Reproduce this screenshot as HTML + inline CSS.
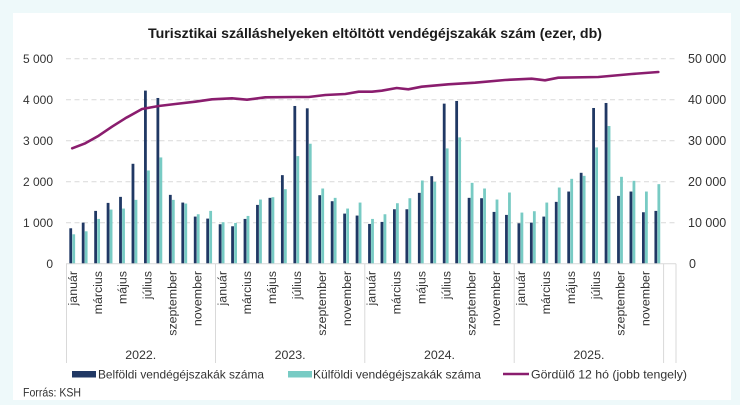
<!DOCTYPE html>
<html><head><meta charset="utf-8"><style>
html,body{margin:0;padding:0;background:#eef9fa;}
svg{display:block;}
text{font-family:"Liberation Sans",sans-serif;fill:#333333;}
</style></head><body>
<svg width="740" height="405" viewBox="0 0 740 405" xmlns="http://www.w3.org/2000/svg">
<rect x="0" y="0" width="740" height="405" fill="#eef9fa"/>
<rect x="13" y="13" width="718" height="387" fill="#ffffff"/>
<text x="375" y="38" text-anchor="middle" font-size="14" font-weight="bold" style="fill:#1a1a1a" textLength="454" lengthAdjust="spacingAndGlyphs">Turisztikai szálláshelyeken eltöltött vendégéjszakák szám (ezer, db)</text>
<g stroke="#d9d9d9" stroke-width="1" stroke-dasharray="5,3.5">
<line x1="66" y1="222.7" x2="676" y2="222.7"/>
<line x1="66" y1="181.7" x2="676" y2="181.7"/>
<line x1="66" y1="140.7" x2="676" y2="140.7"/>
<line x1="66" y1="99.7" x2="676" y2="99.7"/>
<line x1="66" y1="58.7" x2="676" y2="58.7"/>
</g>
<g font-size="12" text-anchor="end">
<text x="53" y="268">0</text>
<text x="53" y="227">1 000</text>
<text x="53" y="186">2 000</text>
<text x="53" y="145">3 000</text>
<text x="53" y="104">4 000</text>
<text x="53" y="63">5 000</text>
</g>
<g font-size="12.5" text-anchor="start">
<text x="689" y="268">0</text>
<text x="688" y="227">10 000</text>
<text x="688" y="186">20 000</text>
<text x="688" y="145">30 000</text>
<text x="688" y="104">40 000</text>
<text x="688" y="63">50 000</text>
</g>
<g transform="translate(0,263.7) scale(1,-0.041)" fill="#203864">
<rect x="69.32" y="0" width="2.8" height="864"/>
<rect x="81.77" y="0" width="2.8" height="1002"/>
<rect x="94.22" y="0" width="2.8" height="1288"/>
<rect x="106.67" y="0" width="2.8" height="1483"/>
<rect x="119.12" y="0" width="2.8" height="1630"/>
<rect x="131.57" y="0" width="2.8" height="2437"/>
<rect x="144.02" y="0" width="2.8" height="4222"/>
<rect x="156.47" y="0" width="2.8" height="4042"/>
<rect x="168.92" y="0" width="2.8" height="1679"/>
<rect x="181.37" y="0" width="2.8" height="1491"/>
<rect x="193.82" y="0" width="2.8" height="1149"/>
<rect x="206.27" y="0" width="2.8" height="1100"/>
<rect x="218.71" y="0" width="2.8" height="962"/>
<rect x="231.16" y="0" width="2.8" height="913"/>
<rect x="243.61" y="0" width="2.8" height="1092"/>
<rect x="256.06" y="0" width="2.8" height="1434"/>
<rect x="268.51" y="0" width="2.8" height="1606"/>
<rect x="280.96" y="0" width="2.8" height="2160"/>
<rect x="293.41" y="0" width="2.8" height="3847"/>
<rect x="305.86" y="0" width="2.8" height="3790"/>
<rect x="318.31" y="0" width="2.8" height="1671"/>
<rect x="330.76" y="0" width="2.8" height="1524"/>
<rect x="343.21" y="0" width="2.8" height="1222"/>
<rect x="355.66" y="0" width="2.8" height="1174"/>
<rect x="368.10" y="0" width="2.8" height="970"/>
<rect x="380.55" y="0" width="2.8" height="1019"/>
<rect x="393.00" y="0" width="2.8" height="1328"/>
<rect x="405.45" y="0" width="2.8" height="1328"/>
<rect x="417.90" y="0" width="2.8" height="1728"/>
<rect x="430.35" y="0" width="2.8" height="2135"/>
<rect x="442.80" y="0" width="2.8" height="3904"/>
<rect x="455.25" y="0" width="2.8" height="3969"/>
<rect x="467.70" y="0" width="2.8" height="1606"/>
<rect x="480.15" y="0" width="2.8" height="1597"/>
<rect x="492.60" y="0" width="2.8" height="1263"/>
<rect x="505.05" y="0" width="2.8" height="1190"/>
<rect x="517.50" y="0" width="2.8" height="986"/>
<rect x="529.94" y="0" width="2.8" height="1002"/>
<rect x="542.39" y="0" width="2.8" height="1149"/>
<rect x="554.84" y="0" width="2.8" height="1508"/>
<rect x="567.29" y="0" width="2.8" height="1760"/>
<rect x="579.74" y="0" width="2.8" height="2217"/>
<rect x="592.19" y="0" width="2.8" height="3798"/>
<rect x="604.64" y="0" width="2.8" height="3920"/>
<rect x="617.09" y="0" width="2.8" height="1654"/>
<rect x="629.54" y="0" width="2.8" height="1760"/>
<rect x="641.99" y="0" width="2.8" height="1255"/>
<rect x="654.44" y="0" width="2.8" height="1288"/>
</g>
<g transform="translate(0,263.7) scale(1,-0.041)" fill="#78cbc4">
<rect x="72.32" y="0" width="2.8" height="717"/>
<rect x="84.77" y="0" width="2.8" height="790"/>
<rect x="97.22" y="0" width="2.8" height="1092"/>
<rect x="109.67" y="0" width="2.8" height="1320"/>
<rect x="122.12" y="0" width="2.8" height="1345"/>
<rect x="134.57" y="0" width="2.8" height="1557"/>
<rect x="147.02" y="0" width="2.8" height="2274"/>
<rect x="159.47" y="0" width="2.8" height="2592"/>
<rect x="171.92" y="0" width="2.8" height="1557"/>
<rect x="184.37" y="0" width="2.8" height="1467"/>
<rect x="196.82" y="0" width="2.8" height="1206"/>
<rect x="209.27" y="0" width="2.8" height="1288"/>
<rect x="221.71" y="0" width="2.8" height="1011"/>
<rect x="234.16" y="0" width="2.8" height="994"/>
<rect x="246.61" y="0" width="2.8" height="1165"/>
<rect x="259.06" y="0" width="2.8" height="1565"/>
<rect x="271.51" y="0" width="2.8" height="1622"/>
<rect x="283.96" y="0" width="2.8" height="1817"/>
<rect x="296.41" y="0" width="2.8" height="2624"/>
<rect x="308.86" y="0" width="2.8" height="2926"/>
<rect x="321.31" y="0" width="2.8" height="1834"/>
<rect x="333.76" y="0" width="2.8" height="1606"/>
<rect x="346.21" y="0" width="2.8" height="1345"/>
<rect x="358.66" y="0" width="2.8" height="1491"/>
<rect x="371.10" y="0" width="2.8" height="1092"/>
<rect x="383.55" y="0" width="2.8" height="1206"/>
<rect x="396.00" y="0" width="2.8" height="1475"/>
<rect x="408.45" y="0" width="2.8" height="1597"/>
<rect x="420.90" y="0" width="2.8" height="2029"/>
<rect x="433.35" y="0" width="2.8" height="1997"/>
<rect x="445.80" y="0" width="2.8" height="2812"/>
<rect x="458.25" y="0" width="2.8" height="3081"/>
<rect x="470.70" y="0" width="2.8" height="1972"/>
<rect x="483.15" y="0" width="2.8" height="1834"/>
<rect x="495.60" y="0" width="2.8" height="1565"/>
<rect x="508.05" y="0" width="2.8" height="1736"/>
<rect x="520.50" y="0" width="2.8" height="1247"/>
<rect x="532.94" y="0" width="2.8" height="1280"/>
<rect x="545.39" y="0" width="2.8" height="1491"/>
<rect x="557.84" y="0" width="2.8" height="1858"/>
<rect x="570.29" y="0" width="2.8" height="2070"/>
<rect x="582.74" y="0" width="2.8" height="2143"/>
<rect x="595.19" y="0" width="2.8" height="2836"/>
<rect x="607.64" y="0" width="2.8" height="3358"/>
<rect x="620.09" y="0" width="2.8" height="2119"/>
<rect x="632.54" y="0" width="2.8" height="2021"/>
<rect x="644.99" y="0" width="2.8" height="1760"/>
<rect x="657.44" y="0" width="2.8" height="1940"/>
</g>
<g stroke="#d9d9d9" stroke-width="1">
<line x1="66" y1="263.7" x2="676" y2="263.7"/>
<line x1="66.5" y1="263.7" x2="66.5" y2="363"/>
<line x1="215.5" y1="263.7" x2="215.5" y2="363"/>
<line x1="364.8" y1="263.7" x2="364.8" y2="363"/>
<line x1="514.2" y1="263.7" x2="514.2" y2="363"/>
<line x1="663.6" y1="263.7" x2="663.6" y2="363"/>
<line x1="676" y1="263.7" x2="676" y2="363"/>
</g>
<polyline fill="none" stroke="#8a1d6e" stroke-width="2.6" stroke-linejoin="round" stroke-linecap="round" points="72.2,148.3 85.3,143.3 98.7,135.7 112,126.7 125.3,118.3 142,109 158.7,106 175.3,104 195.3,101.7 212,99.3 232,98.3 247,99.7 265.3,97.3 295.3,97 308.7,97 325.3,95 345.3,94 358.7,91.7 372,91.7 381.7,90.7 396.7,88 408.3,89.3 421.7,86.7 448.3,84.3 475,82.7 505,80 531.7,78.7 545,80.3 558.3,77.7 598.3,77 631.7,74 658.3,72"/>
<g font-size="12.4" text-anchor="end">
<text transform="translate(76.9,271) rotate(-90)">január</text>
<text transform="translate(101.8,271) rotate(-90)">március</text>
<text transform="translate(126.7,271) rotate(-90)">május</text>
<text transform="translate(151.6,271) rotate(-90)">július</text>
<text transform="translate(176.5,271) rotate(-90)">szeptember</text>
<text transform="translate(201.4,271) rotate(-90)">november</text>
<text transform="translate(226.3,271) rotate(-90)">január</text>
<text transform="translate(251.2,271) rotate(-90)">március</text>
<text transform="translate(276.1,271) rotate(-90)">május</text>
<text transform="translate(301.0,271) rotate(-90)">július</text>
<text transform="translate(325.9,271) rotate(-90)">szeptember</text>
<text transform="translate(350.8,271) rotate(-90)">november</text>
<text transform="translate(375.7,271) rotate(-90)">január</text>
<text transform="translate(400.6,271) rotate(-90)">március</text>
<text transform="translate(425.5,271) rotate(-90)">május</text>
<text transform="translate(450.4,271) rotate(-90)">július</text>
<text transform="translate(475.3,271) rotate(-90)">szeptember</text>
<text transform="translate(500.2,271) rotate(-90)">november</text>
<text transform="translate(525.1,271) rotate(-90)">január</text>
<text transform="translate(550.0,271) rotate(-90)">március</text>
<text transform="translate(574.9,271) rotate(-90)">május</text>
<text transform="translate(599.8,271) rotate(-90)">július</text>
<text transform="translate(624.7,271) rotate(-90)">szeptember</text>
<text transform="translate(649.6,271) rotate(-90)">november</text>
</g>
<g font-size="12.4" text-anchor="middle">
<text x="140.7" y="359">2022.</text>
<text x="290.1" y="359">2023.</text>
<text x="439.5" y="359">2024.</text>
<text x="588.9" y="359">2025.</text>
</g>
<rect x="72" y="371" width="24" height="6.5" fill="#203864"/>
<text x="98" y="378.3" font-size="12" textLength="166" lengthAdjust="spacingAndGlyphs">Belföldi vendégéjszakák száma</text>
<rect x="288" y="371" width="24" height="6.5" fill="#78cbc4"/>
<text x="313" y="378.3" font-size="12" textLength="168" lengthAdjust="spacingAndGlyphs">Külföldi vendégéjszakák száma</text>
<line x1="503" y1="374" x2="529" y2="374" stroke="#8a1d6e" stroke-width="2.6"/>
<text x="531" y="378.3" font-size="12" textLength="156" lengthAdjust="spacingAndGlyphs">Gördülő 12 hó (jobb tengely)</text>
<text x="23" y="396.5" font-size="11.5" textLength="58" lengthAdjust="spacingAndGlyphs">Forrás: KSH</text>
</svg>
</body></html>
